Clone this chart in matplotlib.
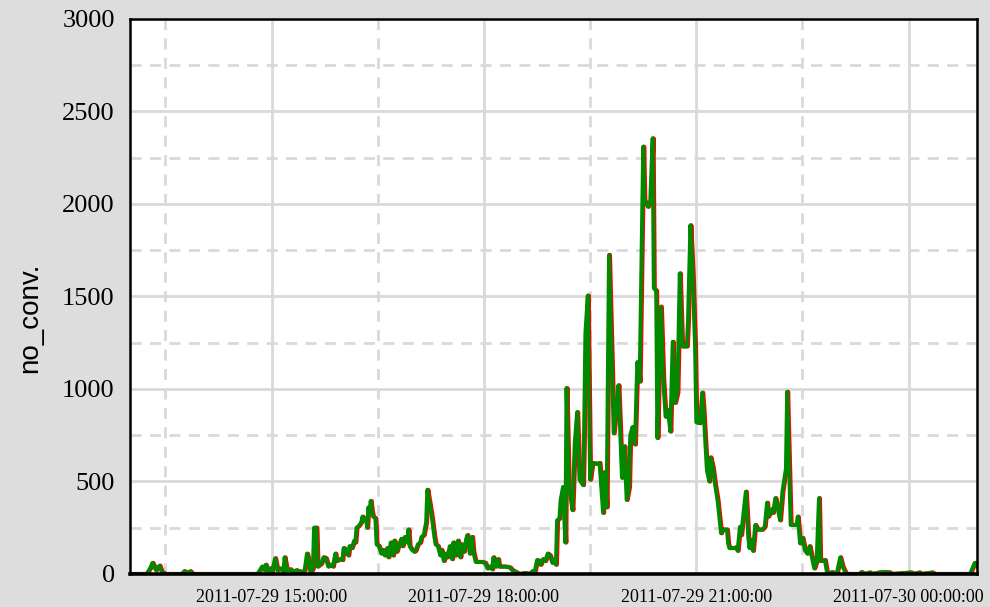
import matplotlib
matplotlib.use("Agg")
import matplotlib.pyplot as plt
import matplotlib.dates as mdates
import numpy as np
import pandas as pd

start = pd.Timestamp("2011-07-29 13:00:00")
# minutes after start, and the no_conv. value at that minute
minutes = [0, 14, 17, 19, 22, 25, 27, 30, 44, 46, 48, 51, 53, 108,
           112, 114, 115, 117, 119, 120, 123, 125, 127, 130, 131, 133, 136, 138, 141, 143,
           146, 148, 150, 152, 153, 155, 156, 158, 159, 162, 164, 166, 168, 170, 172, 174,
           175, 178, 180, 181, 183, 185, 186, 188, 190, 191, 192, 194, 196, 197, 198, 200,
           201, 202, 203, 204, 205, 206, 208, 209, 211, 213, 214, 216, 218, 219, 221, 223,
           224, 226, 228, 230, 231, 233, 235, 236, 237, 239, 241, 242, 244, 246, 247, 249,
           251, 252, 254, 256, 258, 259, 261, 263, 264, 266, 268, 269, 271, 273, 274, 276,
           278, 280, 281, 283, 285, 286, 288, 290, 291, 293, 296, 298, 301, 303, 305, 307,
           308, 310, 312, 313, 318, 322, 324, 327, 330, 335, 339, 341, 343, 345, 347, 348,
           350, 352, 354, 356, 358, 359, 361, 362, 364, 365, 367, 369, 370, 372, 373, 375,
           377, 379, 381, 384, 385, 386, 388, 390, 392, 396, 398, 401, 402, 404, 406, 408,
           410, 413, 414, 417, 419, 421, 423, 424, 426, 428, 430, 432, 435, 436, 439, 441,
           443, 444, 446, 447, 448, 450, 452, 454, 456, 458, 460, 462, 464, 466, 468, 472,
           473, 475, 477, 479, 480, 483, 485, 486, 489, 491, 492, 494, 496, 498, 501, 502,
           506, 507, 508, 512, 514, 515, 517, 518, 522, 524, 525, 527, 528, 530, 532, 536,
           538, 540, 541, 544, 545, 547, 549, 551, 553, 556, 557, 560, 565, 566, 568, 570,
           572, 574, 576, 579, 580, 582, 584, 585, 589, 591, 595, 597, 599, 602, 604, 607,
           618, 620, 622, 627, 629, 635, 640, 644, 646, 662, 664, 669, 671, 680, 682, 712,
           716, 718]
no_conv = [0, 0, 30, 60, 20, 45, 10, 0, 0, 15, 5, 15, 0, 0,
           40, 20, 50, 15, 30, 0, 85, 20, 30, 15, 90, 20, 25, 10, 20, 15,
           10, 20, 110, 60, 0, 30, 250, 250, 40, 55, 90, 85, 40, 50, 40, 110,
           70, 80, 75, 140, 130, 100, 150, 140, 180, 170, 250, 260, 280, 310, 290, 300,
           250, 360, 330, 395, 340, 310, 300, 160, 150, 110, 130, 100, 140, 90, 170, 100,
           180, 120, 160, 190, 150, 200, 170, 240, 150, 130, 120, 125, 160, 170, 200, 210,
           280, 455, 380, 300, 200, 160, 150, 100, 130, 70, 110, 90, 150, 80, 170, 100,
           180, 90, 160, 120, 190, 210, 110, 200, 120, 65, 65, 65, 60, 30, 40, 25,
           90, 40, 80, 40, 40, 35, 20, 10, 0, 5, 0, 15, 10, 75, 70, 50,
           80, 70, 110, 100, 60, 75, 50, 290, 300, 400, 470, 170, 1005, 450, 435, 345,
           710, 875, 510, 480, 815, 1300, 1505, 510, 600, 595, 600, 330, 550, 360, 1725, 1250,
           760, 960, 1020, 520, 690, 400, 470, 750, 795, 700, 1145, 1040, 2310, 2020, 1985, 2020,
           2355, 1545, 1530, 735, 1010, 1445, 1050, 850, 885, 770, 1255, 925, 980, 1625, 1230, 1230,
           1375, 1885, 1615, 1220, 820, 815, 980, 900, 560, 500, 630, 575, 480, 400, 220, 240,
           240, 165, 140, 140, 145, 125, 255, 210, 445, 205, 140, 185, 125, 265, 240, 240,
           255, 385, 310, 350, 330, 410, 355, 290, 445, 570, 985, 265, 265, 310, 165, 195,
           130, 110, 150, 60, 30, 70, 410, 70, 75, 0, 10, 5, 0, 90, 40, 0,
           0, 10, 0, 8, 0, 8, 10, 8, 0, 8, 0, 8, 0, 8, 0, 0,
           60, 40]

times = start + pd.to_timedelta(minutes, unit="m")
times_red = times + pd.Timedelta(seconds=50)

bg = "#dddddd"
grid_c = "#d9d9d9"

fig = plt.figure(figsize=(9.9, 6.07), dpi=100, facecolor=bg)
ax = fig.add_axes([0.1313, 0.0544, 0.8556, 0.9143])
ax.set_facecolor("white")

ax.plot(times_red, no_conv, color="#ff0000", lw=3.0, zorder=3)
ax.plot(times, no_conv, color="#008a00", lw=2.8, zorder=4)

ax.set_xlim(start, start + pd.Timedelta(minutes=718))
ax.set_ylim(0, 3000)

ax.xaxis.set_major_locator(mdates.HourLocator(byhour=[0, 15, 18, 21]))
ax.xaxis.set_major_formatter(mdates.DateFormatter("%Y-%m-%d %H:%M:%S"))
ax.set_yticks(np.arange(0, 3001, 500))
ax.set_yticks(np.arange(250, 3000, 500), minor=True)

# dashed lines half way between the hour labels
minor_x = [start + pd.Timedelta(minutes=30 + 180 * k) for k in range(4)]
ax.set_xticks(minor_x, minor=True)

ax.grid(which="major", color=grid_c, lw=2.0, ls="-", zorder=0)
ax.grid(which="minor", color=grid_c, lw=2.0, ls=(0, (4, 3)), zorder=0)
ax.set_axisbelow(True)

ax.tick_params(which="both", length=0)
ax.tick_params(axis="y", labelsize=19, pad=11)
ax.tick_params(axis="x", labelsize=13, pad=11)
for lab in ax.get_xticklabels() + ax.get_yticklabels():
    lab.set_fontfamily("Liberation Serif")

for s in ax.spines.values():
    s.set_linewidth(1.8)
    s.set_color("black")
    s.set_zorder(5)
ax.spines["bottom"].set_linewidth(2.6)

ax.set_ylabel("no_conv.", fontsize=20, family="Liberation Sans")
ax.yaxis.set_label_coords(-0.102, 0.462)

fig.savefig("out.png", dpi=100, facecolor=bg)
